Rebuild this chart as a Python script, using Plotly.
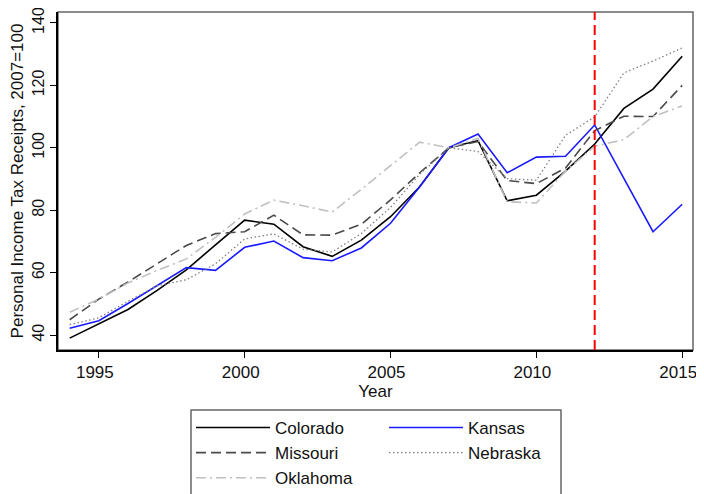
import plotly.graph_objects as go

years = list(range(1994, 2016))
colorado = [39.0, 43.6, 48.2, 54.3, 60.9, 68.9, 76.8, 75.5, 68.3, 65.2, 70.4, 77.9, 87.5, 100, 102.3, 83.0, 84.8, 92.5, 101.2, 112.6, 118.8, 129.3]
kansas = [42.2, 44.6, 50.1, 55.9, 61.6, 60.7, 68.1, 70.1, 64.8, 63.8, 67.9, 75.8, 87.5, 100, 104.4, 92.0, 97.0, 97.3, 107.3, 90.2, 73.1, 81.9]
missouri = [44.9, 51.5, 57.0, 62.8, 68.7, 72.5, 73.1, 78.4, 72.1, 72.0, 75.5, 83.3, 92.0, 100, 102.0, 89.5, 88.5, 93.5, 105.5, 110.1, 110.0, 120.0]
nebraska = [43.3, 45.5, 50.8, 55.8, 57.7, 62.8, 70.8, 72.4, 67.5, 66.6, 72.5, 80.9, 91.5, 100, 98.8, 90.1, 89.6, 104.0, 109.9, 124.0, 127.8, 132.0]
oklahoma = [47.3, 51.5, 56.7, 60.7, 64.4, 71.3, 78.8, 83.2, 81.4, 79.4, 86.7, 94.1, 101.8, 100, 103.0, 82.7, 82.3, 92.5, 100.5, 102.6, 110.0, 113.4]
policy_year = 2012
x_ticks = [1995, 2000, 2005, 2010, 2015]
y_ticks = [40, 60, 80, 100, 120, 140]

FONT = "Liberation Sans, Arial, sans-serif"

# the page body adds an 8px margin, so the figure starts at (8, 8) in the window
W, H = 696, 486
L, R, T, B = 50, 11, 4, 144
PW, PH = W - L - R, H - T - B

fig = go.Figure()
series = [
    ("Colorado", colorado, "#000000", "solid", 1.6, "legend"),
    ("Kansas", kansas, "#1a1aff", "solid", 1.6, "legend2"),
    ("Missouri", missouri, "#4a4a4a", "10px,5px", 1.6, "legend"),
    ("Nebraska", nebraska, "#808080", "1.5px,2.5px", 1.3, "legend2"),
    ("Oklahoma", oklahoma, "#c0c0c0", "10px,4px,2px,4px", 1.6, "legend"),
]
for name, vals, color, dash, w, lg in series:
    fig.add_trace(go.Scatter(x=years, y=vals, name=name, mode="lines", legend=lg,
                             legendgroup=name,
                             line=dict(color=color, dash=dash, width=w)))

fig.add_vline(x=policy_year, line=dict(color="#ff0000", dash="10px,5px", width=2))
# plot frame
fig.add_shape(type="rect", xref="paper", yref="paper", x0=0, x1=1, y0=0, y1=1,
              line=dict(color="#666666", width=1.5), layer="below")
# legend frame (shared by both legend columns)
fig.add_shape(type="rect", xref="paper", yref="paper",
              x0=(183 - L) / PW, x1=(553 - L) / PW,
              y0=(T + PH - 402) / PH, y1=(T + PH - 530) / PH,
              line=dict(color="#666666", width=1.5))

leg_common = dict(
    orientation="v", xref="paper", yref="container", yanchor="top", xanchor="left",
    itemwidth=74, borderwidth=0, bgcolor="rgba(0,0,0,0)",
    font=dict(family=FONT, size=17, color="#111111"), tracegroupgap=5, traceorder="normal",
)

fig.update_layout(
    width=W, height=H,
    margin=dict(l=L, r=R, t=T, b=B, autoexpand=False),
    plot_bgcolor="white", paper_bgcolor="white",
    font=dict(family=FONT, size=17, color="#111111"),
    showlegend=True,
    legend=dict(x=(183 - L) / PW, y=1 - 402 / H, **leg_common),
    legend2=dict(x=(376 - L) / PW, y=1 - 402 / H, **leg_common),
    xaxis=dict(
        title=dict(text="Year", standoff=1, font=dict(size=17)), automargin=False,
        range=[1993.6, 2015.37], tickvals=x_ticks, ticks="outside", ticklen=6,
        ticklabeloverflow="allow", tickfont=dict(size=17), ticklabelshift=-4,
        showgrid=False, zeroline=False, showline=True, linecolor="black", linewidth=1.5,
        tickcolor="black",
    ),
    yaxis=dict(
        title=dict(text="Personal Income Tax Receipts, 2007=100", standoff=2, font=dict(size=17)),
        automargin=False, ticklabeloverflow="allow", tickfont=dict(size=16),
        range=[35.2, 143.5], tickvals=y_ticks, ticks="outside", ticklen=6, tickangle=-90,
        showgrid=False, zeroline=False, showline=True, linecolor="black", linewidth=1.5,
        tickcolor="black",
    ),
)

fig.write_html("out.html")
